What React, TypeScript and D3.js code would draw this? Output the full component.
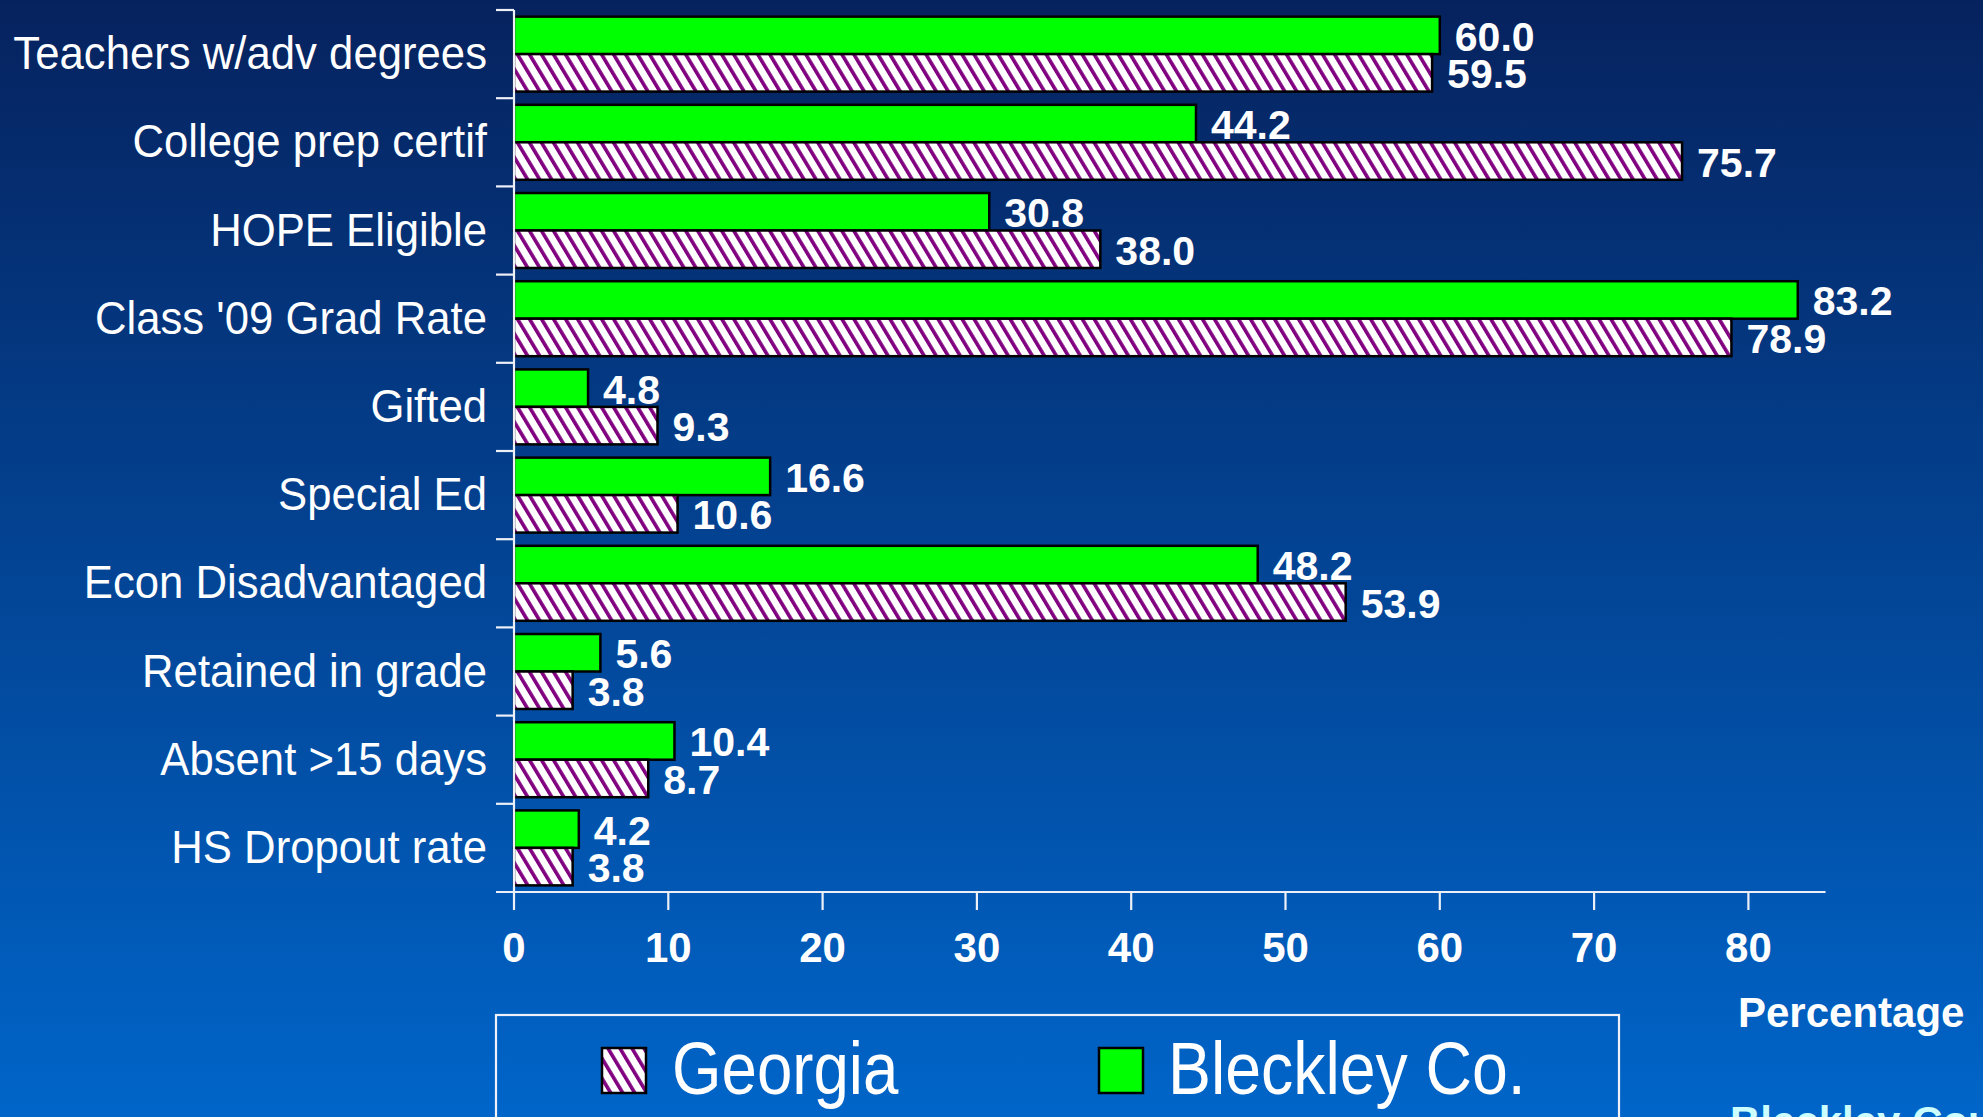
import * as d3 from 'd3'

const CATEGORIES = [
  'Teachers w/adv degrees',
  'College prep certif',
  'HOPE Eligible',
  "Class '09 Grad Rate",
  'Gifted',
  'Special Ed',
  'Econ Disadvantaged',
  'Retained in grade',
  'Absent >15 days',
  'HS Dropout rate',
]
const BLECKLEY = [60.0, 44.2, 30.8, 83.2, 4.8, 16.6, 48.2, 5.6, 10.4, 4.2]
const GEORGIA = [59.5, 75.7, 38.0, 78.9, 9.3, 10.6, 53.9, 3.8, 8.7, 3.8]
const SERIES = ['Bleckley Co.', 'Georgia']
const X_MAX = 85

const W = 1983
const H = 1117
const FONT = '"Liberation Sans", Arial, sans-serif'

export default function App() {
  const x = d3.scaleLinear().domain([0, X_MAX]).range([514, 514 + X_MAX * 15.43])
  const y = d3.scaleBand<string>().domain(CATEGORIES).range([10, 892]).paddingInner(0.15).paddingOuter(0.075)
  const sub = d3.scaleBand<string>().domain(SERIES).range([0, y.bandwidth()])
  const ticks = x.ticks(9)
  const step = y.step()
  const bounds = d3.range(CATEGORIES.length + 1).map((i) => 10 + i * step)

  const rows = CATEGORIES.map((c, i) => ({ c, vals: [BLECKLEY[i], GEORGIA[i]] }))

  return (
    <svg width={W} height={H} viewBox={`0 0 ${W} ${H}`} style={{ position: 'absolute', left: 0, top: 0, display: 'block' }}>
      <defs>
        <linearGradient id="bg" x1="0" y1="0" x2="0" y2="1">
          <stop offset="0%" stopColor="#06225e" />
          <stop offset="100%" stopColor="#0065c9" />
        </linearGradient>
        <pattern id="hatch" patternUnits="userSpaceOnUse" width={10.3} height={40} patternTransform="rotate(-31)">
          <rect width={10.3} height={40} fill="#ffffff" />
          <rect x={0} width={3.6} height={40} fill="#800080" />
        </pattern>
      </defs>
      <rect width={W} height={H} fill="url(#bg)" />

      {/* category labels */}
      {CATEGORIES.map((c) => (
        <g key={c} transform={`translate(487,${(y(c) ?? 0) + y.bandwidth() / 2 + 15}) scale(0.95,1)`}>
          <text textAnchor="end" fill="#ffffff" fontFamily={FONT} fontSize={46}>{c}</text>
        </g>
      ))}

      {/* bars */}
      {rows.map((r) => (
        <g key={r.c} transform={`translate(0,${y(r.c)})`}>
          {SERIES.map((s, j) => (
            <rect key={s} x={x(0)} y={sub(s)} width={x(r.vals[j]) - x(0)} height={sub.bandwidth()}
              fill={j === 0 ? '#00ff00' : 'url(#hatch)'} stroke="#000000" strokeWidth={2.5} />
          ))}
          {SERIES.map((s, j) => (
            <text key={s + 'l'} x={x(r.vals[j]) + 15} y={(sub(s) ?? 0) + sub.bandwidth() / 2 + 15.5}
              fill="#ffffff" fontFamily={FONT} fontWeight="bold" fontSize={41}>{r.vals[j].toFixed(1)}</text>
          ))}
        </g>
      ))}

      {/* y axis */}
      <line x1={x(0)} x2={x(0)} y1={bounds[0]} y2={892} stroke="#eef0f8" strokeWidth={2.2} />
      {bounds.slice(0, -1).map((b, i) => (
        <line key={i} x1={x(0) - 18} x2={x(0)} y1={b} y2={b} stroke="#eef0f8" strokeWidth={2.2} />
      ))}

      {/* x axis */}
      <line x1={x(0) - 18} x2={x(X_MAX)} y1={892} y2={892} stroke="#eef0f8" strokeWidth={2.2} />
      {ticks.map((t) => (
        <g key={t} transform={`translate(${x(t)},892)`}>
          <line y1={0} y2={18} stroke="#eef0f8" strokeWidth={2.2} />
          <text y={70} textAnchor="middle" fill="#ffffff" fontFamily={FONT} fontWeight="bold" fontSize={42}>{t}</text>
        </g>
      ))}

      <text x={1738} y={1027} fill="#ffffff" fontFamily={FONT} fontWeight="bold" fontSize={42}>Percentage</text>

      {/* legend */}
      <rect x={496} y={1015} width={1123} height={160} fill="none" stroke="#f0f0f8" strokeWidth={2.2} />
      <rect x={602} y={1048} width={44} height={45} fill="url(#hatch)" stroke="#000000" strokeWidth={2.5} />
      <g transform="translate(672,1094) scale(0.86,1)">
        <text fill="#ffffff" fontFamily={FONT} fontSize={74}>{SERIES[1]}</text>
      </g>
      <rect x={1099} y={1048} width={44} height={45} fill="#00ff00" stroke="#000000" strokeWidth={2.5} />
      <g transform="translate(1168,1094) scale(0.87,1)">
        <text fill="#ffffff" fontFamily={FONT} fontSize={74}>{SERIES[0]}</text>
      </g>

      <text x={1730} y={1136} fill="#ccffff" fontFamily={FONT} fontWeight="bold" fontSize={42}>Bleckley County</text>
    </svg>
  )
}
